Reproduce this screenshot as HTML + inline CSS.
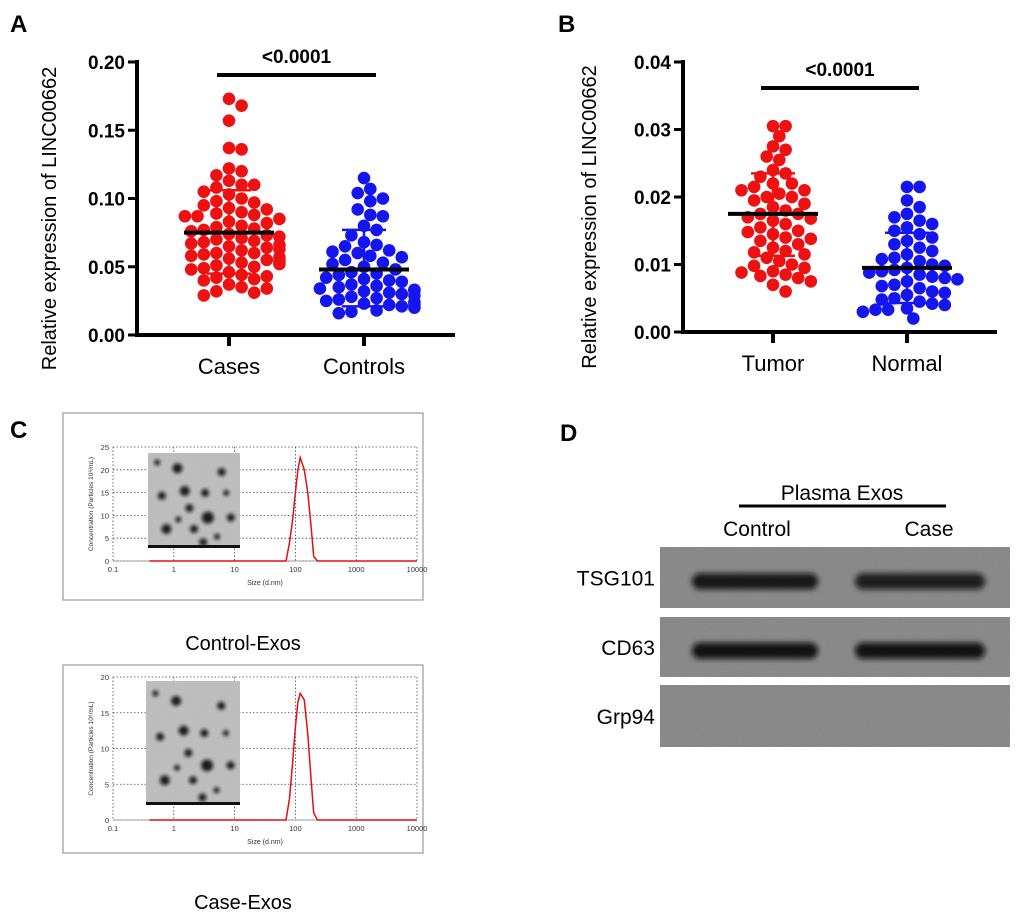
<!DOCTYPE html>
<html><head><meta charset="utf-8"><style>
html,body{margin:0;padding:0;background:#fff}
svg{display:block;font-family:"Liberation Sans",Arial,sans-serif}
</style></head><body>
<svg id="fig" width="1020" height="918" viewBox="0 0 1020 918">
<defs>
<filter id="blur2" x="-20%" y="-60%" width="140%" height="220%"><feGaussianBlur stdDeviation="2.6"/></filter>
<filter id="blur3" x="-50%" y="-50%" width="200%" height="200%"><feGaussianBlur stdDeviation="1.8"/></filter>
<filter id="noise" x="0" y="0" width="1" height="1"><feTurbulence type="fractalNoise" baseFrequency="0.9" numOctaves="2" seed="3"/><feColorMatrix type="saturate" values="0"/><feComponentTransfer><feFuncA type="linear" slope="0.15"/></feComponentTransfer></filter>
</defs>
<g id="panelA"></g>
<g id="panelB"></g>
<g id="panelC"></g>
<g id="panelD"></g>
</svg>
<script>
// ---- Data ----
const aCategories = ["Cases","Controls"];
const aTicks = [0,0.05,0.10,0.15,0.20];
const aTickLabels = ["0.00","0.05","0.10","0.15","0.20"];
const aCases = [0.173,0.168,0.157,0.137,0.136,0.122,0.12,0.117,0.113,0.11,0.11,0.108,0.105,0.103,0.1,0.098,0.097,0.095,0.093,0.092,0.09,0.089,0.088,0.087,0.087,0.085,0.083,0.082,0.08,0.079,0.078,0.077,0.076,0.074,0.073,0.072,0.071,0.07,0.069,0.068,0.067,0.066,0.065,0.064,0.063,0.062,0.06,0.06,0.059,0.058,0.057,0.056,0.055,0.054,0.053,0.052,0.051,0.05,0.049,0.048,0.046,0.044,0.043,0.042,0.041,0.04,0.037,0.035,0.034,0.032,0.031,0.029];
const aControls = [0.115,0.107,0.104,0.1,0.098,0.092,0.088,0.087,0.08,0.077,0.073,0.068,0.066,0.065,0.062,0.061,0.06,0.058,0.057,0.055,0.053,0.052,0.05,0.048,0.046,0.045,0.044,0.042,0.041,0.04,0.039,0.037,0.036,0.035,0.034,0.033,0.033,0.032,0.031,0.03,0.029,0.028,0.027,0.026,0.025,0.024,0.023,0.022,0.022,0.021,0.02,0.018,0.017,0.016];
const aMeans = [0.075,0.048];
const aSDhi = [0.106,0.077];
const aSDlo = [0.045,0.021];
const bCategories = ["Tumor","Normal"];
const bTicks = [0,0.01,0.02,0.03,0.04];
const bTickLabels = ["0.00","0.01","0.02","0.03","0.04"];
const bTumor = [0.0305,0.0305,0.029,0.0275,0.027,0.026,0.0255,0.024,0.0235,0.023,0.022,0.022,0.0215,0.021,0.021,0.0205,0.02,0.02,0.0195,0.019,0.0185,0.018,0.0175,0.0175,0.017,0.0168,0.0165,0.016,0.0155,0.015,0.0148,0.0145,0.014,0.0138,0.0135,0.013,0.0125,0.012,0.0118,0.0115,0.011,0.0105,0.01,0.0098,0.0095,0.009,0.0088,0.0085,0.0083,0.008,0.0075,0.007,0.006];
const bNormal = [0.0215,0.0215,0.0195,0.0185,0.0175,0.017,0.0165,0.016,0.0155,0.015,0.0145,0.014,0.0135,0.013,0.0125,0.012,0.0115,0.011,0.0108,0.0105,0.01,0.0098,0.0095,0.0092,0.009,0.0088,0.0085,0.0082,0.008,0.0078,0.0075,0.007,0.0068,0.0065,0.006,0.0058,0.0055,0.005,0.0048,0.0045,0.0042,0.004,0.0035,0.0033,0.0033,0.003,0.002];
const bMeans = [0.0175,0.0095];
const bSDhi = [0.0235,0.0147];
const bSDlo = [0.0113,0.0043];
const dlsSizes = [0.4,60,70,80,90,100,110,120,140,160,180,200,230,260,10000];
const dlsConc1 = [0,0,0,4,9,15,20,22.7,20,15,8,1,0,0,0];
const dlsConc2 = [0,0,0,3,8,13,16.5,17.7,16.8,12,6,1,0,0,0];
const dlsYTicks1 = [0,5,10,15,20,25];
const dlsYTicks2 = [0,5,10,15,20];
const dlsXTicks = [0.1,1,10,100,1000,10000];
const dlsXTickLabels = ["0.1","1","10","100","1000","10000"];
const blotProteins = ["TSG101","CD63","Grp94"];
const blotLanes = ["Control","Case"];
const blotIntensity = [[0.9,0.85],[0.95,0.95],[0,0]];

const NS="http://www.w3.org/2000/svg";
function mk(parent,tag,attrs,text){const e=document.createElementNS(NS,tag);for(const k in attrs)e.setAttribute(k,attrs[k]);if(text!==undefined)e.textContent=text;parent.appendChild(e);return e;}

function swarm(vals,cx,ys,r){
  const placed=[];const out=[];
  vals.forEach(v=>{
    const y=ys(v);let k=0,x=cx;
    for(;;){
      const off=Math.ceil(k/2)*r*1.0*(k%2?1:-1);x=cx+off;
      if(!placed.some(p=>(p[0]-x)**2+(p[1]-y)**2<(r*1.85)**2)||Math.abs(off)>50)break;k++;
    }
    placed.push([x,y]);out.push([x,y]);
  });
  return out;
}

function scatterPanel(gid,o){
  const g=document.getElementById(gid);
  const ys=v=>o.y0-(v-o.ticks[0])/(o.ticks[o.ticks.length-1]-o.ticks[0])*(o.y0-o.y1);
  let t=mk(g,'text',{x:o.letterX,y:32,'font-size':24,'font-weight':'bold'},o.letter);
  
  t=mk(g,'text',{transform:`translate(${o.labelX},${(o.y0+o.y1)/2+20}) rotate(-90)`,'text-anchor':'middle','font-size':20},'Relative expression of LINC00662');
  
  let l=mk(g,'line',{x1:o.ax,y1:o.y1-2,x2:o.ax,y2:o.y0+2,stroke:'#000','stroke-width':4});
  
  l=mk(g,'line',{x1:o.ax-2,y1:o.y0,x2:o.axEnd,y2:o.y0,stroke:'#000','stroke-width':4});
  
  o.ticks.forEach((v,i)=>{
    mk(g,'line',{x1:o.ax-9,y1:ys(v),x2:o.ax,y2:ys(v),stroke:'#000','stroke-width':3});
    const tl=mk(g,'text',{x:o.ax-12,y:ys(v)+7,'text-anchor':'end','font-size':19,'font-weight':'bold'},o.tickLabels[i]);
    
  });
  o.cats.forEach((c,i)=>{
    const cx=o.cx[i];
    mk(g,'line',{x1:cx,y1:o.y0,x2:cx,y2:o.y0+11,stroke:'#000','stroke-width':4});
    const tl=mk(g,'text',{x:cx,y:o.y0+39,'text-anchor':'middle','font-size':22},c);
    
    const col=i==0?'#ee1111':'#1515ee';
    const pts=swarm(o.series[i],cx,ys,6.3);
    pts.forEach(p=>{const d=mk(g,'circle',{cx:p[0],cy:p[1],r:6.3,fill:col});
      });
    const eb=mk(g,'path',{d:`M${cx},${ys(o.hi[i])}V${ys(o.lo[i])}M${cx-22},${ys(o.hi[i])}H${cx+22}M${cx-22},${ys(o.lo[i])}H${cx+22}`,stroke:col,'stroke-width':2.5,fill:'none'});
    
    const mn=mk(g,'line',{x1:cx-45,y1:ys(o.means[i]),x2:cx+45,y2:ys(o.means[i]),stroke:'#000','stroke-width':4});
    
  });
  const sb=mk(g,'line',{x1:o.sig[0],y1:o.sigY,x2:o.sig[1],y2:o.sigY,stroke:'#000','stroke-width':4});
  
  const st=mk(g,'text',{x:(o.sig[0]+o.sig[1])/2,y:o.sigY-12,'text-anchor':'middle','font-size':19,'font-weight':'bold'},'<0.0001');
  
}
scatterPanel('panelA',{letter:'A',letterX:10,labelX:56,ax:137,axEnd:455,y0:335,y1:62,ticks:aTicks,tickLabels:aTickLabels,cats:aCategories,cx:[229,364],series:[aCases,aControls],means:aMeans,hi:aSDhi,lo:aSDlo,sig:[217,376],sigY:75});
scatterPanel('panelB',{letter:'B',letterX:558,labelX:596,ax:683,axEnd:997,y0:332,y1:62,ticks:bTicks,tickLabels:bTickLabels,cats:bCategories,cx:[773,907],series:[bTumor,bNormal],means:bMeans,hi:bSDhi,lo:bSDlo,sig:[761,919],sigY:88});

// ---- Panel C ----
(function(){
  const g=document.getElementById('panelC');
  let t=mk(g,'text',{x:10,y:438,'font-size':24,'font-weight':'bold'},'C');
  
  function dls(box,plot,yTicks,yMax,conc,img,caption,capY,nm){
    const sub=mk(g,'g',{});
    
    mk(sub,'rect',{x:box[0],y:box[1],width:box[2],height:box[3],fill:'#fff',stroke:'#999','stroke-width':1.2});
    const [px0,py0,px1,py1]=plot;
    const xs=v=>px0+(Math.log10(v)+1)/5*(px1-px0);
    const ys=v=>py1-v/yMax*(py1-py0);
    dlsXTicks.forEach((v,i)=>{
      mk(sub,'line',{x1:xs(v),y1:py0,x2:xs(v),y2:py1,stroke:'#444','stroke-width':0.8,'stroke-dasharray':'1.5,2'});
      mk(sub,'text',{x:xs(v),y:py1+11,'text-anchor':'middle','font-size':7.5,fill:'#333'},dlsXTickLabels[i]);
    });
    yTicks.forEach(v=>{
      mk(sub,'line',{x1:px0,y1:ys(v),x2:px1,y2:ys(v),stroke:'#444','stroke-width':0.8,'stroke-dasharray':'1.5,2'});
      mk(sub,'text',{x:px0-4,y:ys(v)+3,'text-anchor':'end','font-size':7.5,fill:'#333'},String(v));
    });
    mk(sub,'line',{x1:px0,y1:py1,x2:px1,y2:py1,stroke:'#888','stroke-width':0.8});
    mk(sub,'text',{transform:`translate(${px0-20},${(py0+py1)/2}) rotate(-90)`,'text-anchor':'middle','font-size':6.5,fill:'#333'},'Concentration (Particles 10⁸/mL)');
    mk(sub,'text',{x:(px0+px1)/2,y:py1+24,'text-anchor':'middle','font-size':7,fill:'#333'},'Size (d.nm)');
    // TEM inset
    mk(sub,'rect',{x:img[0],y:img[1],width:img[2],height:img[3],fill:'#bdbdbd'});
    mk(sub,'rect',{x:img[0],y:img[1],width:img[2],height:img[3],filter:'url(#noise)'});
    const spots=[[0.32,0.16,5],[0.8,0.2,4],[0.4,0.4,5],[0.62,0.42,4],[0.15,0.45,4],[0.65,0.68,6],[0.2,0.8,5],[0.9,0.68,4],[0.5,0.8,4],[0.33,0.7,3],[0.85,0.42,3],[0.6,0.94,4],[0.1,0.1,3],[0.45,0.58,4],[0.75,0.88,3]];
    spots.forEach(s=>mk(sub,'circle',{cx:img[0]+s[0]*img[2],cy:img[1]+s[1]*img[3],r:s[2],fill:'#111',opacity:0.9,filter:'url(#blur3)'}));
    mk(sub,'rect',{x:img[0],y:img[1]+img[3]-3,width:img[2],height:3,fill:'#111'});
    let d='';dlsSizes.forEach((s,i)=>{d+=(i?'L':'M')+xs(s).toFixed(1)+','+ys(conc[i]).toFixed(1);});
    const p=mk(sub,'path',{d:d,stroke:'#e01010','stroke-width':1.5,fill:'none'});
    
    const c=mk(g,'text',{x:box[0]+box[2]/2,y:capY,'text-anchor':'middle','font-size':20},caption);
    
  }
  dls([63,413,360,187],[113,447,417,561],dlsYTicks1,25,dlsConc1,[148,453,92,95],'Control-Exos',650,'control-exos-dls');
  dls([63,665,360,188],[113,677,417,820],dlsYTicks2,20,dlsConc2,[146,681,94,124],'Case-Exos',909,'case-exos-dls');
})();

// ---- Panel D ----
(function(){
  const g=document.getElementById('panelD');
  let t=mk(g,'text',{x:560,y:441,'font-size':24,'font-weight':'bold'},'D');
  
  t=mk(g,'text',{x:842,y:500,'text-anchor':'middle','font-size':21},'Plasma Exos');
  
  mk(g,'line',{x1:739,y1:506,x2:946,y2:506,stroke:'#000','stroke-width':3});
  const laneX=[757,929];
  blotLanes.forEach((n,i)=>{const e=mk(g,'text',{x:laneX[i],y:536,'text-anchor':'middle','font-size':21},n);
    });
  const rows=[[547,61],[617,60],[685,62]];
  const bandX=[[692,818],[855,985]];
  blotProteins.forEach((p,r)=>{
    const [y,h]=rows[r];
    const rg=mk(g,'g',{});
    
    mk(rg,'rect',{x:660,y:y,width:350,height:h,fill:'#858585'});
    mk(rg,'rect',{x:660,y:y,width:350,height:h,filter:'url(#noise)'});
    blotIntensity[r].forEach((v,i)=>{
      if(v>0){const b=mk(rg,'rect',{x:bandX[i][0],y:y+h*0.58-9,width:bandX[i][1]-bandX[i][0],height:16,rx:8,fill:'#0a0a0a',opacity:v,filter:'url(#blur2)'});
        }
    });
    const lab=mk(g,'text',{x:655,y:y+h/2+8,'text-anchor':'end','font-size':21},p);
    
  });
})();
</script>
</body></html>
